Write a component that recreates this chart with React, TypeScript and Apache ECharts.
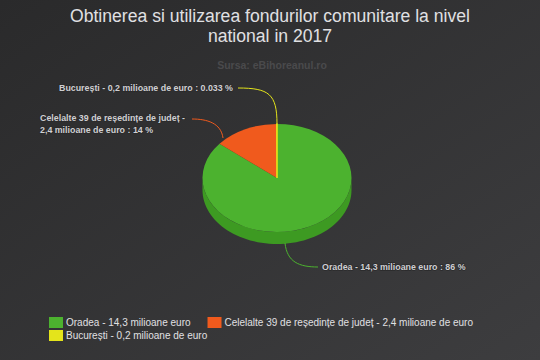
import React, { useEffect, useRef } from "react";
import * as echarts from "echarts";

const TITLE = "Obtinerea si utilizarea fondurilor comunitare la nivel\nnational in 2017";
const SUBTITLE = "Sursa: eBihoreanul.ro";
const NAMES = [
  "Oradea - 14,3 milioane euro",
  "Celelalte 39 de reședințe de județ - 2,4 milioane de euro",
  "București - 0,2 milioane de euro",
];
const VALUES = [86, 14, 0.033];
const COLORS = ["#4cb22f", "#f05a1d", "#e4e41b"];
const SIDE_COLORS = ["#3d9a22", "#c9481a", "#bcbc15"];

// layout (pixels relative to the pie centre)
const PIE = { cx: 277, cy: 178, rx: 74.5, ry: 54, depth: 12 };
const LABEL_LAYOUT = [
  { tx: 45, ty: 89, align: "left", width: 0, c: [8, 65, 10, 84, 22, 89, 41, 89] },
  { tx: -237, ty: -54, align: "left", width: 164, c: [-85, -59, -70, -59, -56, -55, -54, -40] },
  { tx: -44, ty: -90, align: "right", width: 0, c: [-39, -90, -8, -90, 0, -84, 0, -54] },
];

export default function App() {
  const ref = useRef<HTMLDivElement>(null);
  useEffect(() => {
    if (!ref.current) return;
    const chart = echarts.init(ref.current, undefined, { renderer: "svg" });
    const total = VALUES.reduce((a, b) => a + b, 0);

    const renderItem = (params: any, api: any) => {
      const i = params.dataIndex;
      let before = 0;
      for (let k = 0; k < i; k++) before += VALUES[k];
      const v = api.value(0);
      const a0 = (before / total) * Math.PI * 2;
      const a1 = ((before + v) / total) * Math.PI * 2;
      const { cx, cy, rx, ry, depth } = PIE;
      const children: any[] = [];

      // side wall (front half only)
      const s = Math.max(a0, Math.PI / 2);
      const e = Math.min(a1, Math.PI * 1.5);
      if (e > s) {
        const top: number[][] = [];
        const bot: number[][] = [];
        const n = 60;
        for (let k = 0; k <= n; k++) {
          const a = s + ((e - s) * k) / n;
          const x = cx + rx * Math.sin(a);
          const y = cy - ry * Math.cos(a);
          top.push([x, y]);
          bot.push([x, y + depth]);
        }
        children.push({
          type: "polygon",
          shape: { points: top.concat(bot.reverse()) },
          style: { fill: SIDE_COLORS[i] },
        });
      }

      // top face
      children.push({
        type: "group",
        x: cx,
        y: cy,
        scaleY: ry / rx,
        children: [
          {
            type: "sector",
            shape: {
              cx: 0,
              cy: 0,
              r0: 0,
              r: rx,
              startAngle: a0 - Math.PI / 2,
              endAngle: a1 - Math.PI / 2,
              clockwise: true,
            },
            style: {
              fill: COLORS[i],
              stroke: i === 2 ? COLORS[i] : null,
              lineWidth: i === 2 ? 1.6 : 0,
              strokeNoScale: true,
            },
          },
        ],
      });

      // connector + label
      const L = LABEL_LAYOUT[i];
      const c = L.c;
      children.push({
        type: "bezierCurve",
        shape: {
          x1: cx + c[0], y1: cy + c[1],
          cpx1: cx + c[2], cpy1: cy + c[3],
          cpx2: cx + c[4], cpy2: cy + c[5],
          x2: cx + c[6], y2: cy + c[7],
        },
        style: { stroke: COLORS[i], lineWidth: 1, fill: null },
        z2: 5,
      });
      const textStyle: any = {
        text: NAMES[i] + " : " + v + " %",
        x: cx + L.tx,
        y: cy + L.ty,
        align: L.align,
        verticalAlign: "middle",
        fill: "#cfcfd2",
        stroke: "#2a2a2b",
        lineWidth: 1.5,
        fontSize: 8.85,
        fontWeight: "bold",
        fontFamily: "Liberation Sans, Arial, sans-serif",
        lineHeight: 11.5,
      };
      if (L.width) {
        textStyle.width = L.width;
        textStyle.overflow = "break";
      }
      children.push({ type: "text", style: textStyle, z2: 10 });

      return { type: "group", children };
    };

    chart.setOption({
      animation: false,
      backgroundColor: {
        type: "linear",
        x: 0,
        y: 0,
        x2: 1,
        y2: 1,
        colorStops: [
          { offset: 0, color: "#2a2a2b" },
          { offset: 1, color: "#3d3d3f" },
        ],
      },
      title: [
        {
          text: TITLE,
          left: "center",
          top: 1,
          textStyle: {
            color: "#E0E0E3",
            fontSize: 17.6,
            fontWeight: "normal",
            lineHeight: 20,
            fontFamily: "Liberation Sans, Arial, sans-serif",
          },
        },
        {
          text: SUBTITLE,
          left: 267,
          top: 54,
          textAlign: "center",
          textStyle: {
            color: "#4a4a4c",
            fontSize: 10.5,
            fontWeight: "bold",
            fontFamily: "Liberation Sans, Arial, sans-serif",
          },
        },
      ],
      legend: [
        {
          data: [NAMES[0], NAMES[1]],
          left: 49,
          top: 317,
          icon: "rect",
          itemWidth: 14,
          itemHeight: 11,
          itemGap: 17,
          padding: 0,
          selectedMode: false,
          textStyle: {
            color: "#E0E0E3",
            fontSize: 10,
            padding: [0, 0, 0, -2],
            fontFamily: "Liberation Sans, Arial, sans-serif",
          },
        },
        {
          data: [NAMES[2]],
          left: 49,
          top: 330,
          icon: "rect",
          itemWidth: 14,
          itemHeight: 11,
          padding: 0,
          selectedMode: false,
          textStyle: {
            color: "#E0E0E3",
            fontSize: 10,
            padding: [0, 0, 0, -2],
            fontFamily: "Liberation Sans, Arial, sans-serif",
          },
        },
      ],
      series: [
        {
          type: "pie",
          name: "legend-source",
          radius: [0, 0],
          center: [PIE.cx, PIE.cy],
          silent: true,
          label: { show: false },
          labelLine: { show: false },
          data: VALUES.map((v, i) => ({ name: NAMES[i], value: v, itemStyle: { color: COLORS[i] } })),
        },
        {
          type: "custom",
          coordinateSystem: "none",
          silent: true,
          renderItem,
          data: VALUES.map((v, i) => ({ name: NAMES[i], value: v })),
        },
      ],
    });
    return () => chart.dispose();
  }, []);
  return (
    <div
      ref={ref}
      style={{ position: "fixed", left: 0, top: 0, width: 540, height: 360 }}
    />
  );
}
